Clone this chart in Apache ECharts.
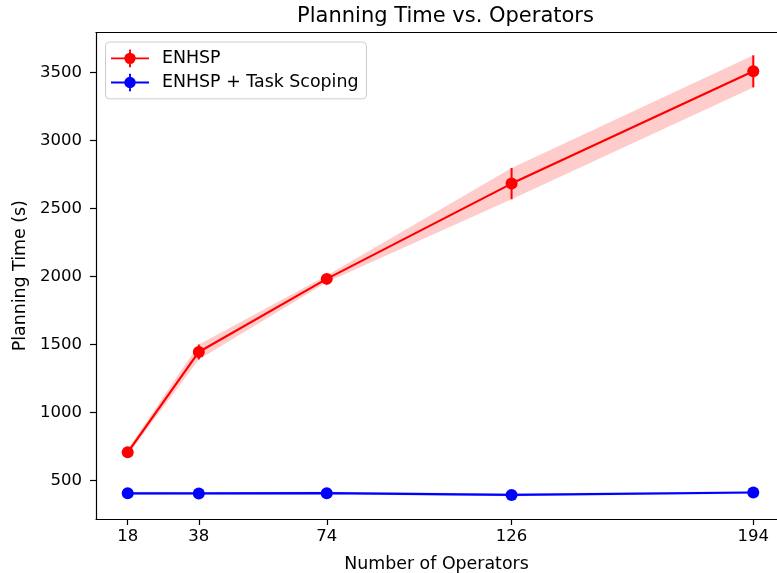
<!DOCTYPE html>
<html><head><meta charset="utf-8">
<script src="https://cdn.jsdelivr.net/npm/echarts@6/dist/echarts.min.js"></script>
<style>html,body{margin:0;padding:0;background:#fff}#c{width:777px;height:573px}</style>
</head><body><div id="c"></div>
<script>
const operators = [18, 38, 74, 126, 194];
const enhspMean = [706, 1444, 1982, 2683, 3509];
const enhspStd = [20, 55, 25, 115, 118];
const scopedMean = [404, 403, 405, 392, 410];
const scopedStd = [12, 10, 10, 10, 10];
const xTicks = [18, 38, 74, 126, 194];
const yTicks = [500, 1000, 1500, 2000, 2500, 3000, 3500];

const FONT = 'DejaVu Sans';
const RED = '#ff0000', BLUE = '#0000ff';

function pairs(ys){ return operators.map((x,i)=>[x, ys[i]]); }

function bandSeries(mean, std, color){
  return {
    type:'custom', silent:true, z:1,
    data:[0],
    renderItem(params, api){
      const up = operators.map((x,i)=>api.coord([x, mean[i]+std[i]]));
      const lo = operators.map((x,i)=>api.coord([x, mean[i]-std[i]])).reverse();
      return {type:'polygon', shape:{points: up.concat(lo)}, style:{fill:color, opacity:0.2}};
    }
  };
}
function errSeries(mean, std, color){
  return {
    type:'custom', silent:true, z:4,
    data: operators.map((x,i)=>[x, mean[i], std[i]]),
    renderItem(params, api){
      const x = api.value(0), m = api.value(1), s = api.value(2);
      const a = api.coord([x, m - s]), b = api.coord([x, m + s]);
      return {type:'line', shape:{x1:a[0], y1:a[1], x2:b[0], y2:b[1]}, style:{stroke:color, lineWidth:2}};
    }
  };
}
const icon = 'path://M0,6.25H30V7.75H0Z M14.25,0H15.75V14H14.25Z M10.5,7A4.5,4.5 0 1,1 19.5,7A4.5,4.5 0 1,1 10.5,7Z';

const chart = echarts.init(document.getElementById('c'));
chart.setOption({
  animation:false,
  backgroundColor:'#fff',
  title:{text:'Planning Time vs. Operators', left:440.5, textAlign:'center', top:1,
    textStyle:{fontFamily:FONT, fontSize:21, fontWeight:'normal', color:'#000'}},
  legend:{
    left:105.5, top:42, orient:'vertical', itemGap:6.4, itemWidth:38, itemHeight:18,
    padding:[7.5,8,7.5,5.5], borderColor:'#cccccc', borderWidth:1, borderRadius:4, backgroundColor:'rgba(255,255,255,0.8)',
    textStyle:{fontFamily:FONT, fontSize:17.4, color:'#000', padding:[0,0,0,8]},
    data:[{name:'ENHSP', icon:icon}, {name:'ENHSP + Task Scoping', icon:icon}]
  },
  grid:{left:96, top:32.5, right:0, bottom:54, show:false, outerBoundsMode:'none', containLabel:false},
  xAxis:[{
    type:'value', min:9.08, max:200.67,
    name:'Number of Operators', nameLocation:'middle', nameGap:37,
    nameTextStyle:{fontFamily:FONT, fontSize:17.4, color:'#000'},
    axisLine:{show:true, onZero:false, lineStyle:{color:'#000', width:1.2}},
    axisTick:{show:true, length:6, customValues:xTicks, lineStyle:{color:'#000', width:1.2}},
    axisLabel:{customValues:xTicks, fontFamily:FONT, fontSize:16.5, color:'#000', margin:9.5},
    splitLine:{show:false}
  },{
    type:'value', position:'top', min:9.08, max:200.67,
    axisLine:{show:true, onZero:false, lineStyle:{color:'#000', width:1.2}},
    axisTick:{show:false}, axisLabel:{show:false}, splitLine:{show:false}
  }],
  yAxis:{
    type:'value', min:215, max:3795,
    name:'Planning Time (s)', nameLocation:'middle', nameGap:59, nameRotate:90,
    nameTextStyle:{fontFamily:FONT, fontSize:17.4, color:'#000'},
    axisLine:{show:true, lineStyle:{color:'#000', width:1.2}},
    axisTick:{show:true, length:6, customValues:yTicks, lineStyle:{color:'#000', width:1.2}},
    axisLabel:{customValues:yTicks, fontFamily:FONT, fontSize:16.5, color:'#000', margin:14,
      formatter:(v)=>String(v)},
    splitLine:{show:false}
  },
  series:[
    bandSeries(enhspMean, enhspStd, RED),
    bandSeries(scopedMean, scopedStd, BLUE),
    {name:'ENHSP', type:'line', data:pairs(enhspMean), color:RED, z:3,
      lineStyle:{color:RED, width:2.2}, symbol:'circle', symbolSize:12,
      itemStyle:{color:RED}},
    errSeries(enhspMean, enhspStd, RED),
    {name:'ENHSP + Task Scoping', type:'line', data:pairs(scopedMean), color:BLUE, z:3,
      lineStyle:{color:BLUE, width:2.2}, symbol:'circle', symbolSize:12,
      itemStyle:{color:BLUE}},
    errSeries(scopedMean, scopedStd, BLUE)
  ]
});
</script></body></html>
